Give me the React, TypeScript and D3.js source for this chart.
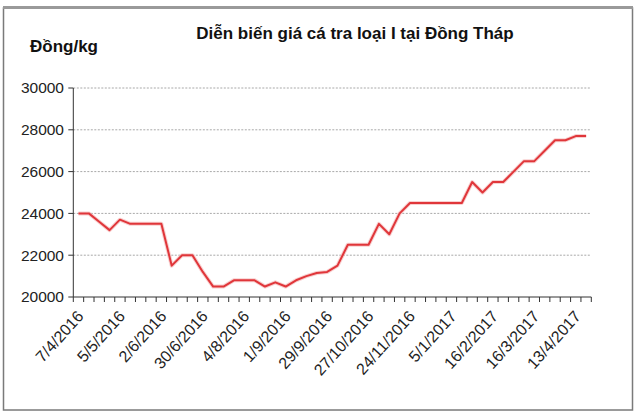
import React from "react";
import * as d3 from "d3";

const title = "Diễn biến giá cá tra loại I tại Đồng Tháp";
const unitLabel = "Đồng/kg";

const dates = [
  "7/4/2016", "14/4/2016", "21/4/2016", "28/4/2016", "5/5/2016", "12/5/2016", "19/5/2016", "26/5/2016",
  "2/6/2016", "9/6/2016", "16/6/2016", "23/6/2016", "30/6/2016", "7/7/2016", "14/7/2016", "21/7/2016",
  "4/8/2016", "11/8/2016", "18/8/2016", "25/8/2016", "1/9/2016", "8/9/2016", "15/9/2016", "22/9/2016",
  "29/9/2016", "6/10/2016", "13/10/2016", "20/10/2016", "27/10/2016", "3/11/2016", "10/11/2016", "17/11/2016",
  "24/11/2016", "1/12/2016", "8/12/2016", "22/12/2016", "5/1/2017", "12/1/2017", "19/1/2017", "9/2/2017",
  "16/2/2017", "23/2/2017", "2/3/2017", "9/3/2017", "16/3/2017", "23/3/2017", "30/3/2017", "6/4/2017",
  "13/4/2017", "20/4/2017",
];

const prices = [
  24000, 24000, 23600, 23200, 23700, 23500, 23500, 23500, 23500, 21500,
  22000, 22000, 21200, 20500, 20500, 20800, 20800, 20800, 20500, 20700,
  20500, 20800, 21000, 21150, 21200, 21500, 22500, 22500, 22500, 23500,
  23000, 24000, 24500, 24500, 24500, 24500, 24500, 24500, 25500, 25000,
  25500, 25500, 26000, 26500, 26500, 27000, 27500, 27500, 27700, 27700,
];

const yTicks = [20000, 22000, 24000, 26000, 28000, 30000];
const labelEvery = 4;

export default function App() {
  const left = 73.3;
  const right = 591.3;
  const top = 88;
  const bottom = 297;

  const x = d3.scaleBand<string>().domain(dates).range([left, right]).padding(0);
  const y = d3.scaleLinear().domain([20000, 30000]).range([bottom, top]);
  const bw = x.bandwidth();

  const line = d3
    .line<number>()
    .x((_, i) => (x(dates[i]) as number) + bw / 2)
    .y((v) => y(v));

  const font = "'Liberation Sans', Arial, sans-serif";

  const boundaries = dates.map((d) => x(d) as number).concat([right]);

  return (
    <svg
      width={640}
      height={420}
      style={{ position: "absolute", left: 0, top: 0, display: "block", background: "#fff" }}
      fontFamily={font}
    >
      <rect x={3.5} y={8} width={629} height={402} fill="#fff" stroke="#7a7a7a" strokeWidth={1.5} />
      <line x1={3} x2={633} y1={7.5} y2={7.5} stroke="#9a9a9a" strokeWidth={3} />

      <text x={355} y={39} textAnchor="middle" fontSize={17} fontWeight="bold" fill="#111">
        {title}
      </text>
      <text x={30} y={52} fontSize={17} fontWeight="bold" fill="#111">
        {unitLabel}
      </text>

      {yTicks.map((t) => (
        <g key={t}>
          {t !== 20000 && (
            <line x1={left} x2={right} y1={y(t)} y2={y(t)} stroke="#a8a8a8" strokeWidth={1} strokeDasharray="2 1.5" />
          )}
          <line x1={left - 5} x2={left} y1={y(t)} y2={y(t)} stroke="#333" strokeWidth={1} />
          <text x={64} y={y(t)} dy="0.35em" textAnchor="end" fontSize={15.5} fill="#222">
            {t}
          </text>
        </g>
      ))}

      <line x1={left} x2={left} y1={top} y2={bottom} stroke="#333" strokeWidth={1} />
      <line x1={left} x2={right} y1={bottom} y2={bottom} stroke="#333" strokeWidth={1} />
      {boundaries.map((bx, i) => (
        <line key={i} x1={bx} x2={bx} y1={bottom} y2={bottom + 5} stroke="#333" strokeWidth={1} />
      ))}

      <path d={line(prices) || ""} fill="none" stroke="#f4b0b0" strokeWidth={4} strokeLinejoin="round" opacity={0.6} />
      <path d={line(prices) || ""} fill="none" stroke="#e0363a" strokeWidth={2} strokeLinejoin="round" />

      {dates.map((d, i) => {
        if (i % labelEvery !== 0) return null;
        const cx = (x(d) as number) + bw / 2 + 6;
        const cy = 317;
        return (
          <text key={d} x={0} y={0} textAnchor="end" fontSize={16} fill="#222"
            transform={`translate(${cx},${cy}) rotate(-48)`}>
            {d}
          </text>
        );
      })}
    </svg>
  );
}
